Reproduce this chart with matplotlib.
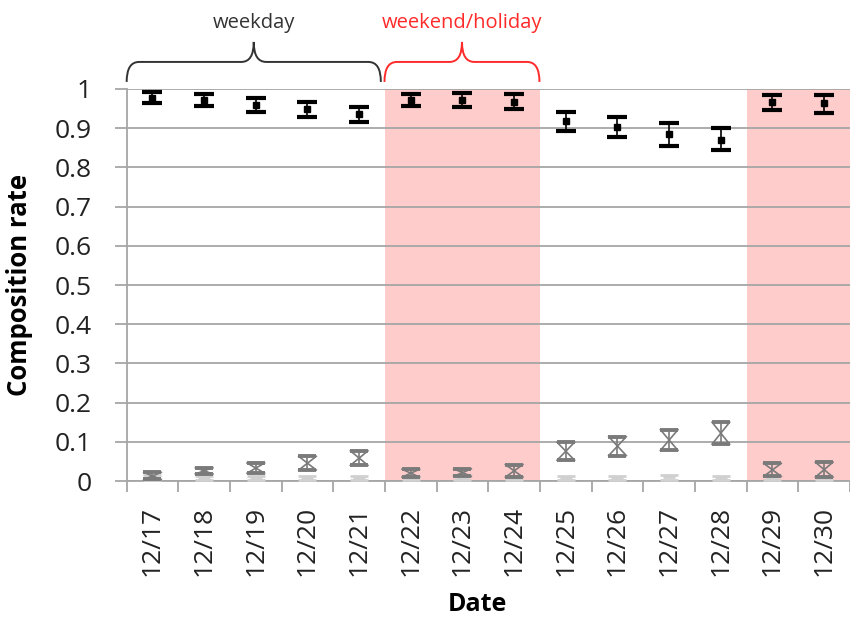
import matplotlib
matplotlib.use("Agg")
import matplotlib.pyplot as plt
from matplotlib.path import Path
from matplotlib.patches import PathPatch
import numpy as np

plt.rcParams['font.family'] = ['Open Sans', 'DejaVu Sans']

dates = ['12/17', '12/18', '12/19', '12/20', '12/21', '12/22', '12/23',
         '12/24', '12/25', '12/26', '12/27', '12/28', '12/29', '12/30']

# Main component: mean with min/max range
black_hi = [0.992, 0.987, 0.976, 0.966, 0.953, 0.986, 0.991, 0.988, 0.942, 0.928, 0.913, 0.901, 0.985, 0.985]
black_mid = [0.977, 0.972, 0.960, 0.948, 0.935, 0.972, 0.972, 0.968, 0.918, 0.903, 0.885, 0.871, 0.966, 0.963]
black_lo = [0.964, 0.957, 0.942, 0.929, 0.917, 0.957, 0.955, 0.948, 0.894, 0.877, 0.855, 0.844, 0.946, 0.939]

# Second component
gray_hi = [0.022, 0.034, 0.046, 0.063, 0.077, 0.030, 0.031, 0.042, 0.099, 0.113, 0.131, 0.150, 0.045, 0.048]
gray_mid = [0.013, 0.026, 0.033, 0.045, 0.058, 0.020, 0.021, 0.026, 0.076, 0.089, 0.104, 0.122, 0.028, 0.029]
gray_lo = [0.004, 0.018, 0.020, 0.028, 0.040, 0.010, 0.012, 0.010, 0.053, 0.065, 0.078, 0.094, 0.012, 0.010]

# Third component
light_hi = [0.015, 0.013, 0.012, 0.013, 0.013, 0.014, 0.012, 0.013, 0.014, 0.013, 0.015, 0.014, 0.013, 0.013]
light_mid = [0.008, 0.008, 0.007, 0.008, 0.008, 0.008, 0.007, 0.008, 0.008, 0.007, 0.009, 0.008, 0.008, 0.008]
light_lo = [0.002, 0.003, 0.002, 0.003, 0.003, 0.003, 0.003, 0.003, 0.002, 0.002, 0.003, 0.002, 0.003, 0.003]

ytick_vals = [0, 0.1, 0.2, 0.3, 0.4, 0.5, 0.6, 0.7, 0.8, 0.9, 1]
ytick_labels = ['0', '0.1', '0.2', '0.3', '0.4', '0.5', '0.6', '0.7', '0.8', '0.9', '1']

holiday_spans = [(5, 7), (12, 13)]  # index ranges of weekend/holiday dates

fig = plt.figure(figsize=(8.5, 6.21), dpi=100)
ax = fig.add_axes([0.149, 0.2254, 0.851, 0.6313])

x = np.arange(len(dates))

for a, b in holiday_spans:
    ax.axvspan(a - 0.5, b + 0.5, color='#FFCCCC', zorder=0, lw=0)

ax.set_ylim(0, 1)
ax.set_xlim(-0.5, len(dates) - 0.5)
ax.set_yticks(ytick_vals)
ax.set_yticklabels(ytick_labels, fontsize=19, color='#222222')
for v in ytick_vals:
    ax.axhline(v, color='#A6A6A6', lw=1.3, zorder=1)

# light gray component
lm = np.array(light_mid)
ax.errorbar(x, lm, yerr=[lm - np.array(light_lo), np.array(light_hi) - lm],
            fmt='_', color='#D0D0D0', ecolor='#D0D0D0', markersize=9, mew=2,
            capsize=6.5, capthick=2, elinewidth=1, zorder=3)

# gray component drawn as hourglass
gm = np.array(gray_mid)
w = 0.17
for i in x:
    ax.plot([i - w, i + w], [gray_hi[i], gray_lo[i]], color='#7A7A7A', lw=1.2, zorder=4)
    ax.plot([i + w, i - w], [gray_hi[i], gray_lo[i]], color='#7A7A7A', lw=1.2, zorder=4)
ax.errorbar(x, gm, yerr=[gm - np.array(gray_lo), np.array(gray_hi) - gm],
            fmt='none', ecolor='#7A7A7A', capsize=6.5, capthick=2.8,
            elinewidth=1.2, zorder=4)

# black component
bm = np.array(black_mid)
ax.errorbar(x, bm, yerr=[bm - np.array(black_lo), np.array(black_hi) - bm],
            fmt='s', color='black', ecolor='black', markersize=5,
            capsize=7.5, capthick=3, elinewidth=1.2, zorder=5)

ax.set_xticks(x)
ax.set_xticklabels(dates, rotation=90, fontsize=19, color='#222222')
ax.set_xticks(np.arange(-0.5, len(dates)), minor=True)
ax.tick_params(axis='x', which='major', length=0, pad=18)
ax.tick_params(axis='x', which='minor', length=8, color='#A6A6A6', width=1.3, direction='out')
ax.tick_params(axis='y', length=9, color='#A6A6A6', width=1.3, pad=16)

for s in ['top', 'right']:
    ax.spines[s].set_visible(False)
for s in ['left', 'bottom']:
    ax.spines[s].set_color('#A6A6A6')
    ax.spines[s].set_linewidth(1.3)

ax.set_ylabel('Composition rate', fontsize=18.5, fontweight='bold')
ax.set_xlabel('Date', fontsize=18, fontweight='bold')
ax.yaxis.set_label_coords(-0.130, 0.5)
ax.xaxis.set_label_coords(0.485, -0.284)


def brace(ax, x0, x1, color):
    y0, y1, y2 = 1.018, 1.069, 1.12
    xc = (x0 + x1) / 2
    r = 0.24
    rc = 0.24
    verts = [(x0, y0), (x0, y1), (x0 + r, y1),
             (xc - rc, y1), (xc, y1), (xc, y2),
             (xc, y1), (xc + rc, y1),
             (x1 - r, y1), (x1, y1), (x1, y0)]
    codes = [Path.MOVETO, Path.CURVE3, Path.CURVE3,
             Path.LINETO, Path.CURVE3, Path.CURVE3,
             Path.CURVE3, Path.CURVE3,
             Path.LINETO, Path.CURVE3, Path.CURVE3]
    patch = PathPatch(Path(verts, codes), fill=False, edgecolor=color,
                      lw=1.4, clip_on=False, transform=ax.transData)
    ax.add_patch(patch)
    return xc


xc1 = brace(ax, -0.5, 4.42, '#333333')
xc2 = brace(ax, 4.49, 7.49, '#FF2A2A')
ax.text(xc1, 1.168, 'weekday', ha='center', va='center', fontsize=14.5,
        color='#333333', clip_on=False)
ax.text(xc2, 1.168, 'weekend/holiday', ha='center', va='center', fontsize=14.5,
        color='#FF2A2A', clip_on=False)

fig.savefig('out.png', dpi=100)
